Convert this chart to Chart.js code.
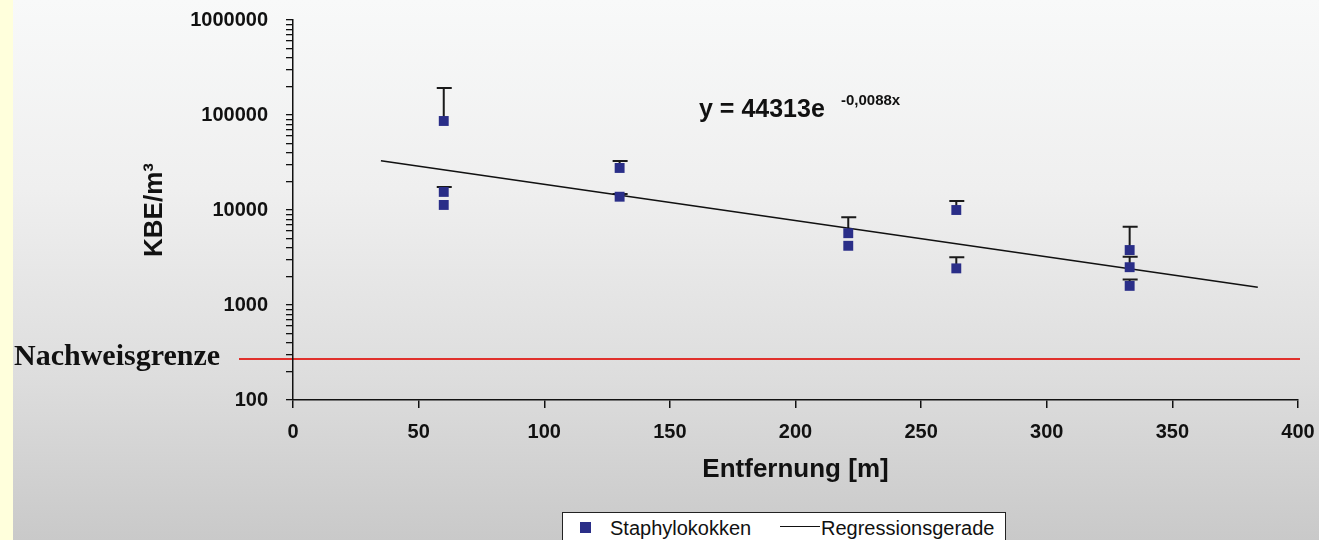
<!DOCTYPE html>
<html lang="de">
<head>
<meta charset="utf-8">
<title>Staphylokokken – KBE/m³ nach Entfernung</title>
<script src="https://cdn.jsdelivr.net/npm/chart.js@4.4.1/dist/chart.umd.min.js"></script>
<style>
    html, body { margin: 0; padding: 0; }
    body {
        width: 1319px; height: 540px; overflow: hidden; position: relative;
        background: linear-gradient(to bottom, #f8f9f9 0%, #efefef 35%, #dddddd 70%, #c9c9c9 100%);
        font-family: 'Liberation Sans', Arial, sans-serif;
    }
    #strip { position: absolute; left: 0; top: 0; width: 13px; height: 540px; background: #ffffdc; }
    #chart { position: absolute; left: 0; top: 0; }
    #legend {
        position: absolute; left: 562px; top: 512px; width: 444px; height: 40px;
        background: #fff; border: 1.5px solid #222; box-sizing: border-box;
        font-size: 20px; color: #111; white-space: nowrap;
    }
    #legend .item { position: absolute; top: 5px; line-height: 20px; }
    #legend .box { position: absolute; width: 11px; height: 11px; top: 9px; }
    #legend .line { position: absolute; height: 0; border-top: 1.5px solid #111; width: 40px; top: 13px; }
</style>
</head>
<body>
<div id="strip"></div>
<canvas id="chart" width="1319" height="540"></canvas>
<div id="legend"></div>
<script>
// Staphylokokken (KBE/m³) in Abhängigkeit von der Entfernung, log-Achse

// ─── Daten ───────────────────────────────────────────────────────────────────
const distances = [60, 60, 60, 130, 130, 221, 221, 264, 264, 333, 333, 333];
const kbe       = [86500, 15500, 11300, 27700, 13800, 5700, 4200, 10000, 2430, 3790, 2500, 1590];
const kbeUpper  = [192000, 17500, null, 32800, 14700, 8400, null, 12400, 3180, 6670, 3220, 1860];

const regressionX = [35, 384];
const regressionY = [33000, 1540];

const detectionLimit = 270;

const xTicks   = [0, 50, 100, 150, 200, 250, 300, 350, 400];
const yDecades = [100, 1000, 10000, 100000, 1000000];

const equationMain = 'y = 44313e';
const equationExp  = '-0,0088x';

const NAVY = '#2a2e88';
const FONT = "'Liberation Sans', Arial, sans-serif";

// ─── Plugins ─────────────────────────────────────────────────────────────────

// rote Linie der Nachweisgrenze (unter den Achsen)
const limitLine = {
    id: 'limitLine',
    beforeDraw(chart) {
        const { ctx, chartArea, scales: { y } } = chart;
        const py = y.getPixelForValue(detectionLimit);
        ctx.save();
        ctx.strokeStyle = '#e0302c';
        ctx.lineWidth = 2;
        ctx.beginPath();
        ctx.moveTo(chartArea.left - 54, py);
        ctx.lineTo(chartArea.right + 2, py);
        ctx.stroke();
        ctx.restore();
    }
};

// obere Fehlerbalken
const errorBars = {
    id: 'errorBars',
    beforeDatasetsDraw(chart) {
        const { ctx, scales: { y } } = chart;
        const meta = chart.getDatasetMeta(0);
        ctx.save();
        ctx.strokeStyle = '#1a1a1a';
        ctx.lineWidth = 2;
        meta.data.forEach((pt, i) => {
            if (kbeUpper[i] == null) return;
            const top = y.getPixelForValue(kbeUpper[i]);
            ctx.beginPath();
            ctx.moveTo(pt.x, pt.y);
            ctx.lineTo(pt.x, top);
            ctx.moveTo(pt.x - 7, top);
            ctx.lineTo(pt.x + 8, top);
            ctx.stroke();
        });
        ctx.restore();
    }
};

// Beschriftungen: Gleichung und Nachweisgrenze
const annotations = {
    id: 'annotations',
    afterDraw(chart) {
        const { ctx, chartArea, scales: { y } } = chart;
        ctx.save();
        ctx.fillStyle = '#111';
        ctx.textBaseline = 'alphabetic';
        ctx.textAlign = 'left';

        ctx.font = `bold 25px ${FONT}`;
        const ex = chartArea.left + 406, ey = chartArea.top + 97;
        ctx.fillText(equationMain, ex, ey);
        ctx.font = `bold 15px ${FONT}`;
        ctx.fillText(equationExp, ex + 142, ey - 12);

        ctx.font = "bold 30px 'Liberation Serif', 'Times New Roman', serif";
        ctx.fillText('Nachweisgrenze', 14, y.getPixelForValue(detectionLimit) + 6);
        ctx.restore();
    }
};

// ─── Chart ───────────────────────────────────────────────────────────────────

Chart.defaults.font.family = FONT;
Chart.defaults.color = '#111';

// Achsenpadding von Chart.js abschalten, damit der Plotbereich exakt sitzt
function noScalePadding(s) {
    s.paddingTop = 0; s.paddingBottom = 0;
    s.paddingLeft = 0; s.paddingRight = 0;
}

const chart = new Chart(document.getElementById('chart').getContext('2d'), {
    type: 'scatter',
    data: {
        datasets: [
            {
                label: 'Staphylokokken',
                data: distances.map((d, i) => ({ x: d, y: kbe[i] })),
                backgroundColor: NAVY,
                borderColor: NAVY,
                borderWidth: 0,
                pointStyle: 'rect',
                pointRadius: 7,
                order: 0
            },
            {
                label: 'Regressionsgerade',
                data: regressionX.map((d, i) => ({ x: d, y: regressionY[i] })),
                showLine: true,
                borderColor: '#111',
                borderWidth: 1.6,
                pointRadius: 0,
                fill: false,
                order: 1
            }
        ]
    },
    options: {
        responsive: false,
        animation: false,
        layout: { padding: { top: 20, right: 21, left: 0, bottom: 0 } },
        scales: {
            x: {
                type: 'linear',
                min: 0, max: 400,
                afterBuildTicks: (s) => { s.ticks = xTicks.map(v => ({ value: v })); },
                afterFit: (s) => { s.height = 140; noScalePadding(s); },
                grid: { display: true, drawOnChartArea: false, drawTicks: true, tickLength: 8, color: '#111', lineWidth: 1.5 },
                border: { display: true, color: '#111', width: 1.5 },
                ticks: { font: { size: 20, weight: 'bold' }, padding: 12, color: '#111' },
                title: {
                    display: true, text: 'Entfernung [m]',
                    font: { size: 26, weight: 'bold' }, color: '#111',
                    padding: { top: 0, bottom: 55 }
                }
            },
            y: {
                type: 'logarithmic',
                min: 100, max: 1000000,
                afterBuildTicks: (s) => {
                    const t = [];
                    for (let i = 0; i < yDecades.length - 1; i++) {
                        for (let k = 1; k <= 9; k++) t.push({ value: k * yDecades[i] });
                    }
                    t.push({ value: yDecades[yDecades.length - 1] });
                    s.ticks = t;
                },
                afterFit: (s) => { s.width = 293; noScalePadding(s); },
                grid: { display: true, drawOnChartArea: false, drawTicks: true, tickLength: 7, color: '#111', lineWidth: 1.3 },
                border: { display: true, color: '#111', width: 1.5 },
                ticks: {
                    autoSkip: false,
                    font: { size: 20, weight: 'bold' }, padding: 18, color: '#111',
                    callback: (v) => yDecades.includes(v) ? String(v) : ''
                },
                title: {
                    display: true, text: 'KBE/m³',
                    font: { size: 26, weight: 'bold' }, color: '#111',
                    padding: { top: 139, bottom: 0 }
                }
            }
        },
        plugins: {
            legend: { display: false },
            tooltip: { enabled: false }
        }
    },
    plugins: [limitLine, errorBars, annotations]
});

// ─── HTML-Legende ────────────────────────────────────────────────────────────

function buildLegend(ch) {
    const el = document.getElementById('legend');
    const [pts, reg] = ch.data.datasets;
    el.innerHTML = `
        <span class="box" style="left:17px; background:${pts.backgroundColor}"></span>
        <span class="item" style="left:47px">${pts.label}</span>
        <span class="line" style="left:217px; border-color:${reg.borderColor}"></span>
        <span class="item" style="left:258px">${reg.label}</span>
    `;
}

buildLegend(chart);
</script>
</body>
</html>
